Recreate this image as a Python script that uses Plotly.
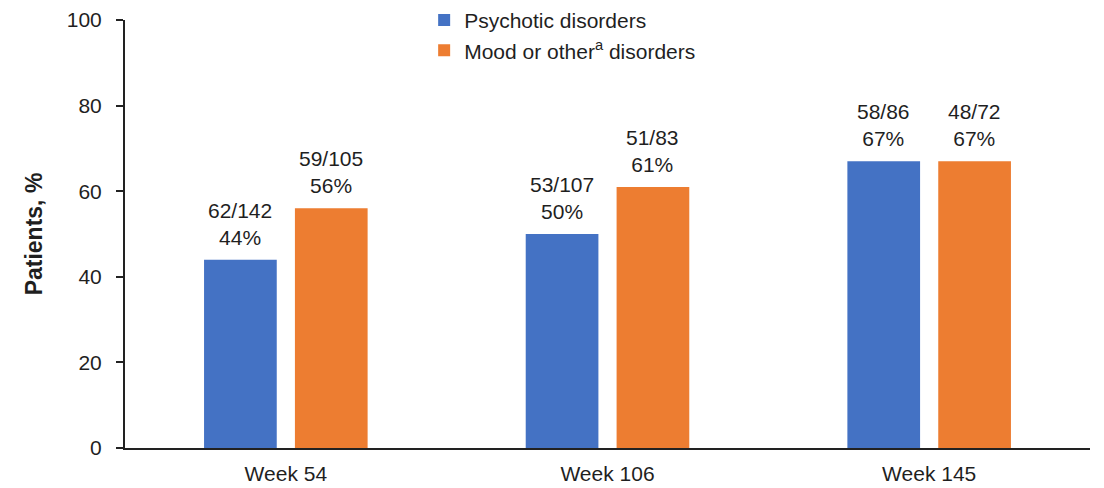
import plotly.graph_objects as go

weeks = ["Week 54", "Week 106", "Week 145"]
psychotic_pct = [44, 50, 67]
psychotic_n = ["62/142", "53/107", "58/86"]
mood_pct = [56, 61, 67]
mood_n = ["59/105", "51/83", "48/72"]

font_family = "Liberation Sans, Arial, sans-serif"
text_color = "#1f1f1f"

# the page adds an 8px body margin, so the figure is a little smaller than the window
W, H = 1096, 480
margin = dict(l=117, r=14, t=12, b=40)
bargap, bargroupgap = 0.435, 0.2

fig = go.Figure()
fig.add_trace(go.Bar(x=weeks, y=psychotic_pct, name="Psychotic disorders",
                     marker=dict(color="#4472C4", line_width=0)))
fig.add_trace(go.Bar(x=weeks, y=mood_pct, name="Mood or other<sup>a</sup> disorders",
                     marker=dict(color="#ED7D31", line_width=0)))

# value labels above each bar (n/N and percentage)
plot_w = W - margin["l"] - margin["r"]
slot = plot_w / len(weeks) * (1 - bargap) / 2
for shift, ns, pcts in [(-slot / 2, psychotic_n, psychotic_pct), (slot / 2, mood_n, mood_pct)]:
    for wk, n, p in zip(weeks, ns, pcts):
        fig.add_annotation(x=wk, y=p, xref="x", yref="y", text=f"{n}<br>{p}%",
                           showarrow=False, xshift=shift, yanchor="bottom", yshift=9,
                           font=dict(size=21, color=text_color))

fig.update_layout(
    width=W, height=H,
    margin=dict(**margin, autoexpand=False),
    plot_bgcolor="white", paper_bgcolor="white",
    font=dict(family=font_family, size=21, color=text_color),
    bargap=bargap, bargroupgap=bargroupgap,
    legend=dict(x=0.31, y=1.047, xanchor="left", yanchor="top",
                font=dict(size=21), tracegroupgap=0, itemwidth=30,
                bgcolor="rgba(0,0,0,0)"),
    yaxis=dict(
        range=[0, 100], dtick=20, showgrid=False, automargin=False,
        showline=True, linecolor="#222222", linewidth=2,
        ticks="outside", ticklen=7, tickcolor="#222222", tickwidth=2,
        ticklabelstandoff=10,
        title=dict(text="<b>Patients, %</b>", font=dict(size=23), standoff=18),
        zeroline=False,
    ),
    xaxis=dict(
        showline=True, linecolor="#222222", linewidth=2, automargin=False,
        ticks="", tickfont=dict(size=21), ticklabelstandoff=6,
    ),
)

fig.write_html("out.html")
